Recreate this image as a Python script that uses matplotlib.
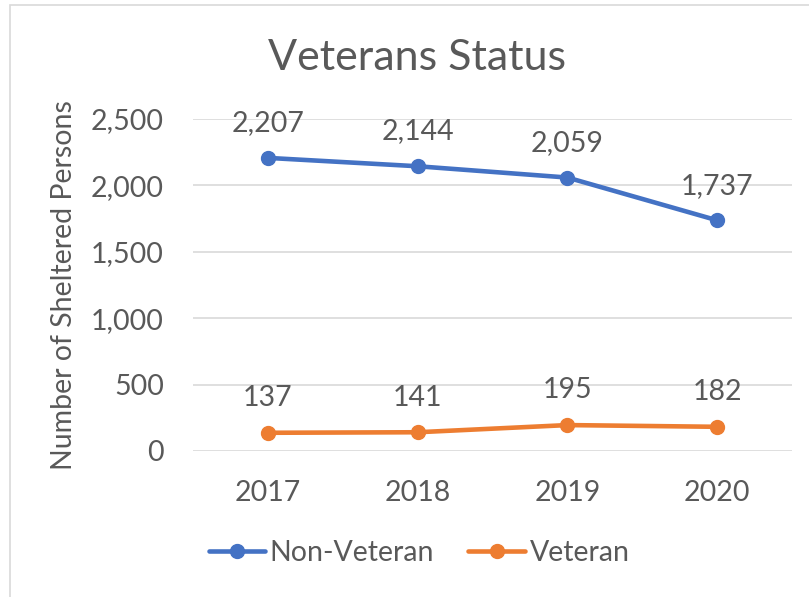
import matplotlib
matplotlib.use("Agg")
import matplotlib.pyplot as plt
from matplotlib.patches import Rectangle

# 数据
years = ["2017", "2018", "2019", "2020"]
non_veteran = [2207, 2144, 2059, 1737]
veteran = [137, 141, 195, 182]

BLUE = "#4472C4"
ORANGE = "#ED7D31"
TEXT = "#595959"
GRID = "#D9D9D9"
FS = 20.5

plt.rcParams["font.family"] = ["Lato", "DejaVu Sans"]

fig = plt.figure(figsize=(8.09, 5.97), dpi=100)
ax = fig.add_axes([0.2386, 0.2446, 0.979 - 0.2386, 0.8007 - 0.2446])

x = list(range(len(years)))
ax.plot(x, non_veteran, color=BLUE, lw=3.3, marker="o", ms=10, label="Non-Veteran",
        solid_capstyle="round")
ax.plot(x, veteran, color=ORANGE, lw=3.3, marker="o", ms=10, label="Veteran",
        solid_capstyle="round")

# 数据标签
for xi, v in zip(x, non_veteran):
    ax.annotate(f"{v:,}", (xi, v), xytext=(0, 25), textcoords="offset points",
                ha="center", va="center", fontsize=FS, color=TEXT)
for xi, v in zip(x, veteran):
    ax.annotate(f"{v:,}", (xi, v), xytext=(0, 25), textcoords="offset points",
                ha="center", va="center", fontsize=FS, color=TEXT)

ax.set_xlim(-0.5, len(years) - 0.5)
ax.set_ylim(0, 2500)
ax.set_yticks(range(0, 2501, 500))
ax.set_yticklabels([f"{v:,}" for v in range(0, 2501, 500)])
ax.set_xticks(x)
ax.set_xticklabels(years)
ax.tick_params(axis="both", length=0, labelsize=FS, labelcolor=TEXT)
ax.tick_params(axis="y", pad=21)
ax.tick_params(axis="x", pad=21)
ax.grid(axis="y", color=GRID, lw=1.2)
ax.set_axisbelow(True)
for s in ax.spines.values():
    s.set_visible(False)

ax.set_ylabel("Number of Sheltered Persons", fontsize=FS, color=TEXT, labelpad=10)
fig.text(0.515, 0.903, "Veterans Status", ha="center", va="center",
         fontsize=31, color=TEXT)

fig.legend(loc="center", bbox_to_anchor=(0.518, 0.073), ncol=2, frameon=False,
           fontsize=FS, labelcolor=TEXT, handlelength=2.0, handletextpad=0.15,
           columnspacing=1.2)

# 外框
fig.patches.append(Rectangle((10 / 809, -0.1), 1.2, 1.1 - 5 / 597,
                             transform=fig.transFigure, fill=False,
                             edgecolor=GRID, lw=1.2))

fig.savefig("out.png", dpi=100)
